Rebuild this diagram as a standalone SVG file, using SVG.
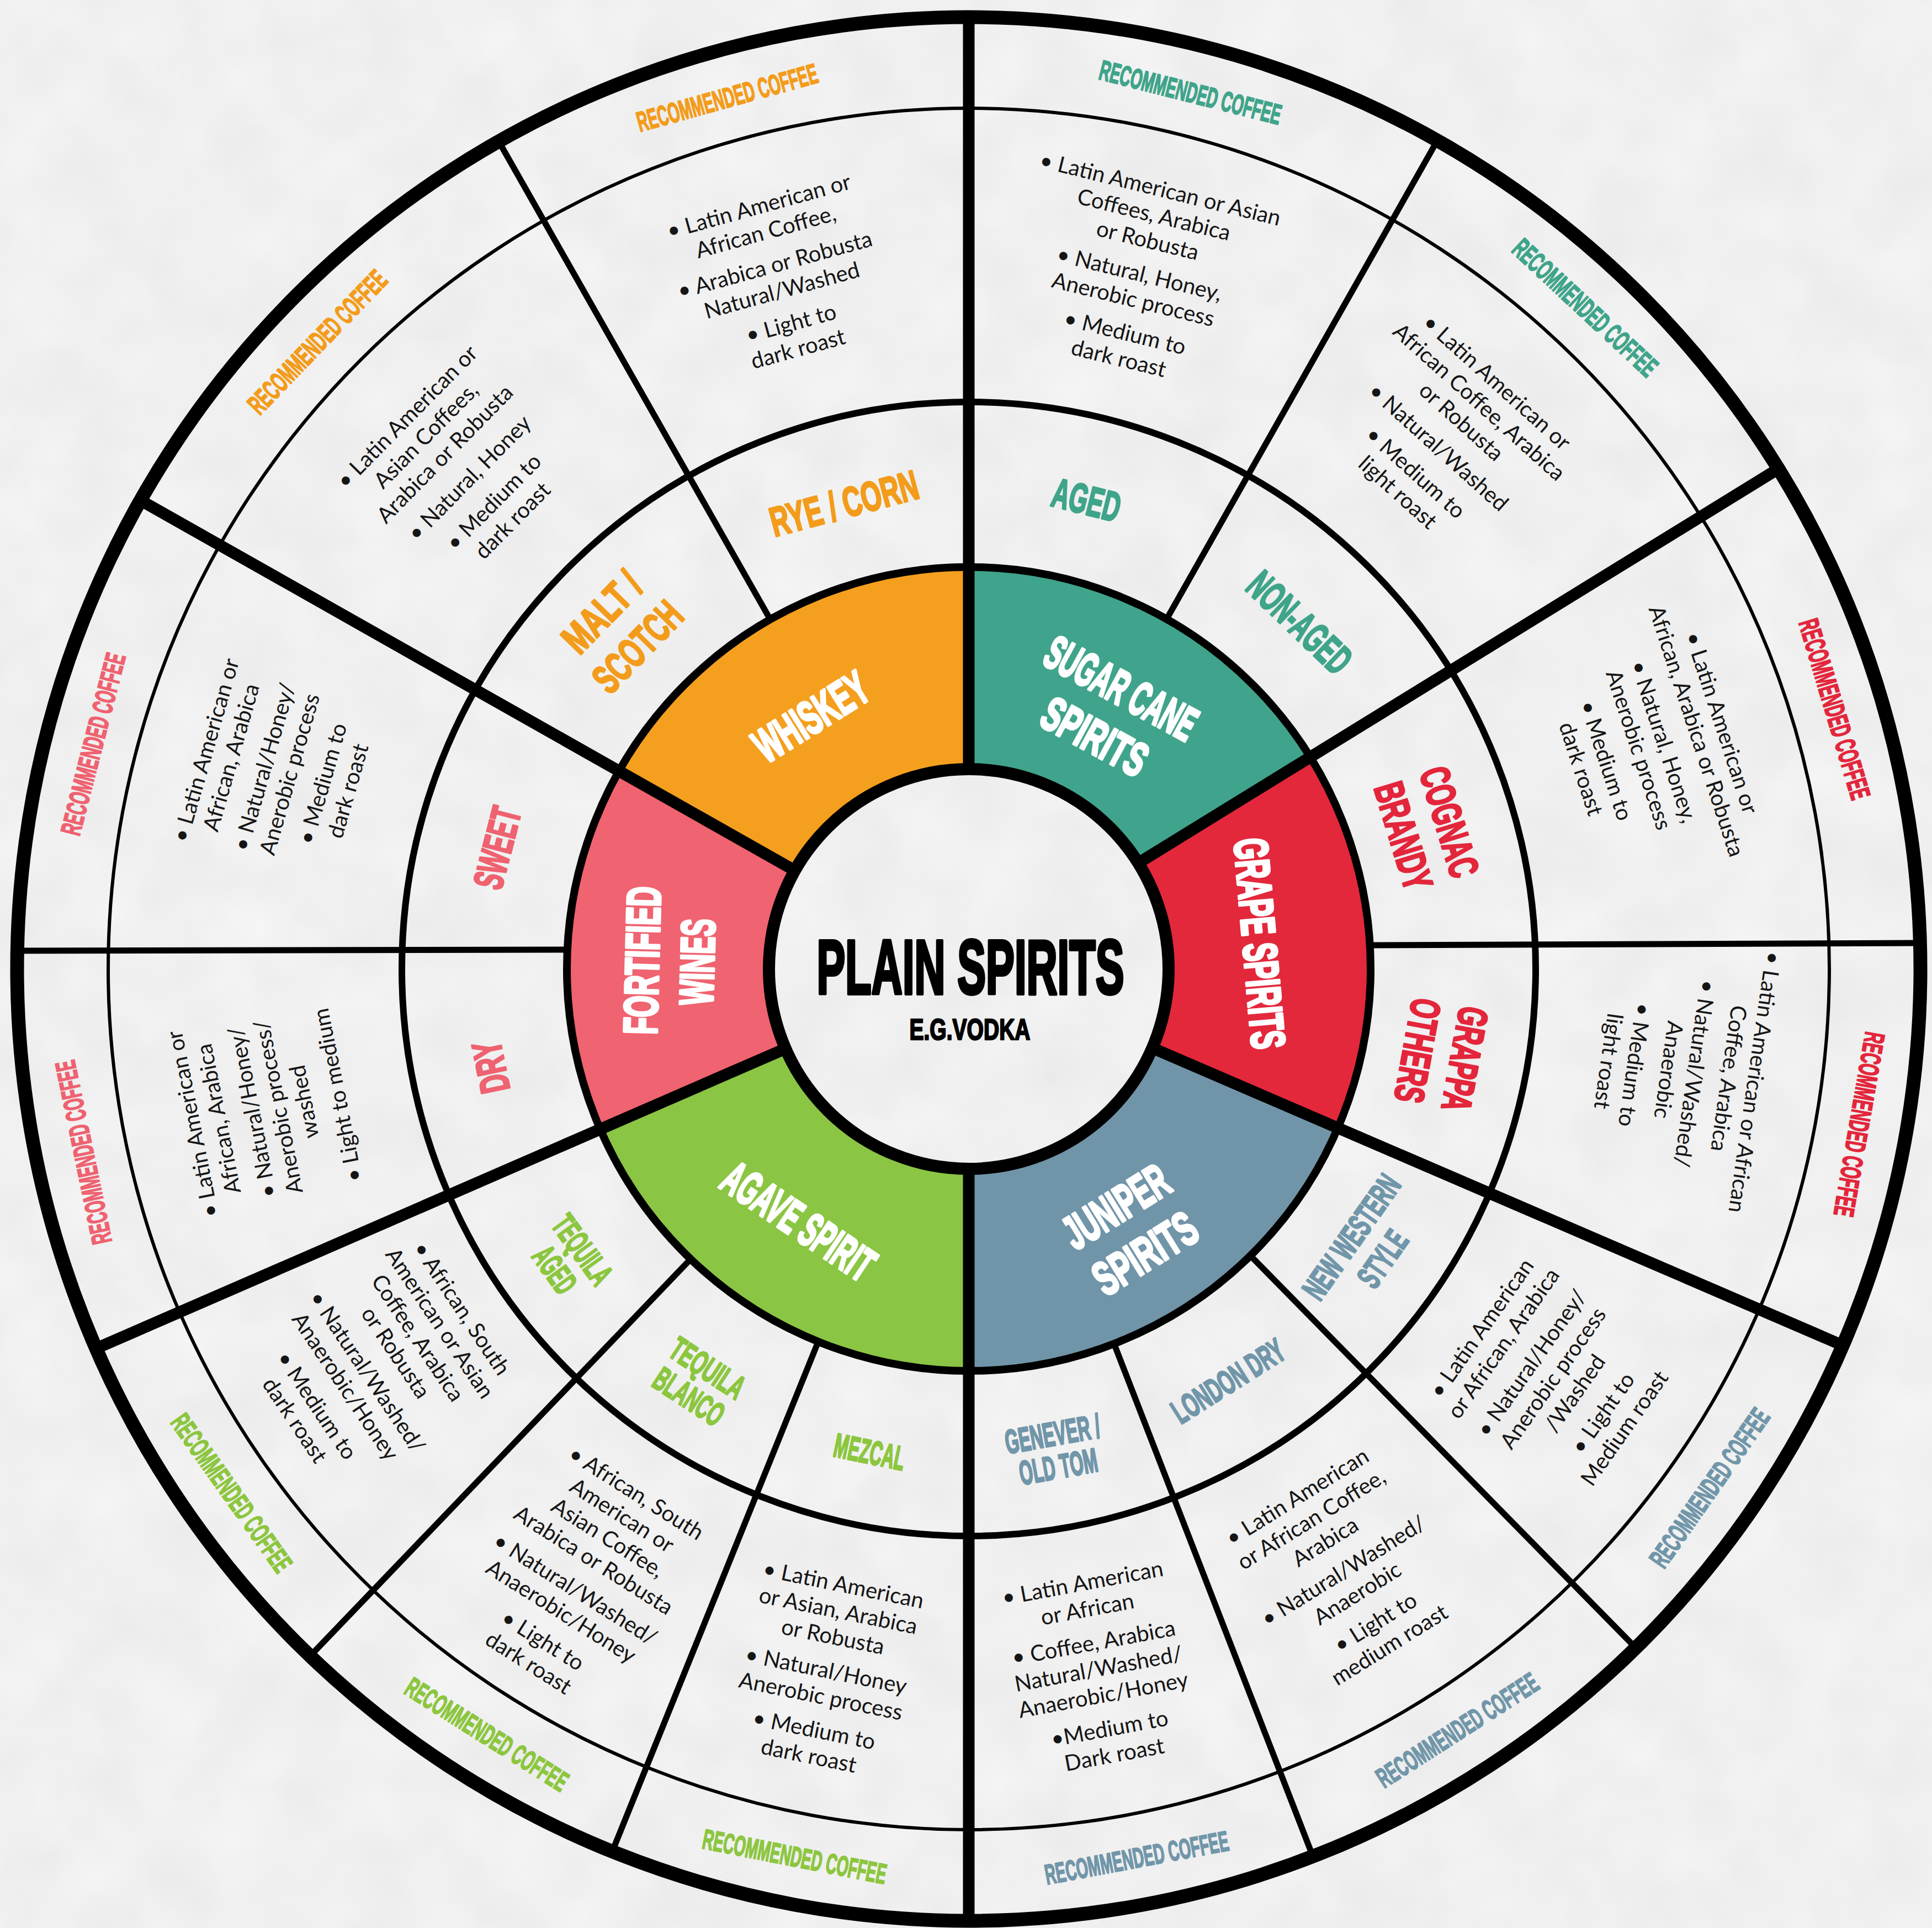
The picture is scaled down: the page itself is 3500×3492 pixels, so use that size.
<svg xmlns="http://www.w3.org/2000/svg" width="3500" height="3492" viewBox="0 0 3500 3492">
<style>
.h{font-family:"Liberation Sans",Arial,sans-serif;font-weight:700;stroke-linejoin:round}
.m{font-size:86px;fill:#fff;stroke:#fff;stroke-width:5}
.s1{font-size:75px;stroke-width:3.5}
.s2{font-size:61px;stroke-width:3}
.rc{font-size:51px;stroke-width:2.2}
.or{fill:#F39C1B;stroke:#F39C1B}
.te{fill:#3FA48A;stroke:#3FA48A}
.rd{fill:#E3263B;stroke:#E3263B}
.bl{fill:#7196A9;stroke:#7196A9}
.gr{fill:#8CC63F;stroke:#8CC63F}
.pk{fill:#EF6270;stroke:#EF6270}
.b{font-family:Lato,"Noto Sans",sans-serif;font-size:40px;fill:#151515;text-anchor:middle}
.thick{stroke:#000;stroke-width:21;fill:none}
.thin{stroke:#000;stroke-width:11;fill:none}
.ring{fill:none;stroke:#000}
</style>
<defs>
<filter id="paper" filterUnits="userSpaceOnUse" x="0" y="0" width="3500" height="3492" color-interpolation-filters="sRGB">
<feTurbulence type="fractalNoise" baseFrequency="0.008" numOctaves="3" seed="7"/>
<feColorMatrix type="matrix" values="0.05 0 0 0 0.915  0.05 0 0 0 0.915  0.05 0 0 0 0.915  0 0 0 0 1"/>
</filter>
</defs>
<rect width="3500" height="3492" fill="#eeeeee"/>
<rect width="3500" height="3492" filter="url(#paper)"/>

<g id="whiskey">
<path d="M1755 1027 A728 728 0 0 0 1121.3 1396.5 L1439.9 1576.7 A362 362 0 0 1 1755 1393 Z" fill="#F59F1F"/>
<g transform="translate(1755 1755) rotate(-122) translate(540 0) rotate(90)"><text class="h m" x="-114.5" y="31" textLength="229" lengthAdjust="spacingAndGlyphs">WHISKEY</text></g>
</g>
<g id="sugar-cane">
<path d="M2372.3 1369.2 A728 728 0 0 0 1755 1027 L1755 1393 A362 362 0 0 1 2062 1563.2 Z" fill="#40A48C"/>
<g transform="translate(1755 1755) rotate(-61.5) translate(530 0) rotate(90)"><text class="h m" x="-150" y="-19" textLength="300" lengthAdjust="spacingAndGlyphs">SUGAR CANE</text><text class="h m" x="-102.5" y="81" textLength="205" lengthAdjust="spacingAndGlyphs">SPIRITS</text></g>
</g>
<g id="grape">
<path d="M2423.6 2042.9 A728 728 0 0 0 2372.3 1369.2 L2062 1563.2 A362 362 0 0 1 2087.5 1898.2 Z" fill="#E3283C"/>
<g transform="translate(1755 1755) rotate(-5) translate(530 0) rotate(90)"><text class="h m" x="-191.5" y="31" textLength="383" lengthAdjust="spacingAndGlyphs">GRAPE SPIRITS</text></g>
</g>
<g id="juniper">
<path d="M1755 2483 A728 728 0 0 0 2423.6 2042.9 L2087.5 1898.2 A362 362 0 0 1 1755 2117 Z" fill="#7195A8"/>
<g transform="translate(1755 1755) rotate(58.2) translate(555 0) rotate(-90)"><text class="h m" x="-105" y="-19" textLength="210" lengthAdjust="spacingAndGlyphs">JUNIPER</text><text class="h m" x="-102.5" y="81" textLength="205" lengthAdjust="spacingAndGlyphs">SPIRITS</text></g>
</g>
<g id="agave">
<path d="M1087.4 2045.3 A728 728 0 0 0 1755 2483 L1755 2117 A362 362 0 0 1 1423 1899.3 Z" fill="#8BC544"/>
<g transform="translate(1755 1755) rotate(124) translate(550 0) rotate(-90)"><text class="h m" x="-156.5" y="31" textLength="313" lengthAdjust="spacingAndGlyphs">AGAVE SPIRIT</text></g>
</g>
<g id="fortified">
<path d="M1121.3 1396.5 A728 728 0 0 0 1087.4 2045.3 L1423 1899.3 A362 362 0 0 1 1439.9 1576.7 Z" fill="#F06370"/>
<g transform="translate(1755 1755) rotate(-178.5) translate(543 0) rotate(90)"><text class="h m" x="-134" y="-19" textLength="268" lengthAdjust="spacingAndGlyphs">FORTIFIED</text><text class="h m" x="-78" y="81" textLength="156" lengthAdjust="spacingAndGlyphs">WINES</text></g>
</g>

<g id="rye-corn">
<g transform="translate(1755 1755) rotate(-105) translate(874 0) rotate(90)"><text class="h s1 or" x="-137.5" y="27" textLength="275" lengthAdjust="spacingAndGlyphs">RYE / CORN</text></g>
<g class="b" transform="translate(1755 1755) rotate(-105.4) translate(1299 0) rotate(90)"><text y="-120">• Latin American or</text><text y="-72">African Coffee,</text><text y="-10">• Arabica or Robusta</text><text y="38">Natural/Washed</text><text y="100">• Light to</text><text y="148">dark roast</text></g>
<g transform="translate(1755 1755) rotate(-105.5) translate(1638 0) rotate(90)"><text class="h rc or" x="-169" y="18" textLength="338" lengthAdjust="spacingAndGlyphs">RECOMMENDED COFFEE</text></g>
</g>
<g id="malt-scotch">
<g transform="translate(1755 1755) rotate(-135.8) translate(883 0) rotate(90)"><text class="h s1 or" x="-85.5" y="-18" textLength="171" lengthAdjust="spacingAndGlyphs">MALT /</text><text class="h s1 or" x="-98.5" y="72" textLength="197" lengthAdjust="spacingAndGlyphs">SCOTCH</text></g>
<g class="b" transform="translate(1755 1755) rotate(-135.5) translate(1293 0) rotate(90)"><text y="-120">• Latin American or</text><text y="-72">Asian Coffees,</text><text y="-24">Arabica or Robusta</text><text y="38">• Natural, Honey</text><text y="100">• Medium to</text><text y="148">dark roast</text></g>
<g transform="translate(1755 1755) rotate(-136.1) translate(1638 0) rotate(90)"><text class="h rc or" x="-169" y="18" textLength="338" lengthAdjust="spacingAndGlyphs">RECOMMENDED COFFEE</text></g>
</g>
<g id="aged">
<g transform="translate(1755 1755) rotate(-75.9) translate(877 0) rotate(90)"><text class="h s1 te" x="-62.5" y="27" textLength="125" lengthAdjust="spacingAndGlyphs">AGED</text></g>
<g class="b" transform="translate(1755 1755) rotate(-76.2) translate(1297 0) rotate(90)"><text y="-144">• Latin American or Asian</text><text y="-96">Coffees, Arabica</text><text y="-48">or Robusta</text><text y="14">• Natural, Honey,</text><text y="62">Anerobic process</text><text y="124">• Medium to</text><text y="172">dark roast</text></g>
<g transform="translate(1755 1755) rotate(-75.8) translate(1638 0) rotate(90)"><text class="h rc te" x="-169" y="18" textLength="338" lengthAdjust="spacingAndGlyphs">RECOMMENDED COFFEE</text></g>
</g>
<g id="non-aged">
<g transform="translate(1755 1755) rotate(-46.3) translate(869 0) rotate(90)"><text class="h s1 te" x="-115" y="27" textLength="230" lengthAdjust="spacingAndGlyphs">NON-AGED</text></g>
<g class="b" transform="translate(1755 1755) rotate(-48) translate(1296 0) rotate(90)"><text y="-120">• Latin American or</text><text y="-72">African Coffee, Arabica</text><text y="-24">or Robusta</text><text y="38">• Natural/Washed</text><text y="100">• Medium to</text><text y="148">light roast</text></g>
<g transform="translate(1755 1755) rotate(-47) translate(1638 0) rotate(90)"><text class="h rc te" x="-169" y="18" textLength="338" lengthAdjust="spacingAndGlyphs">RECOMMENDED COFFEE</text></g>
</g>
<g id="cognac-brandy">
<g transform="translate(1755 1755) rotate(-17) translate(868 0) rotate(90)"><text class="h s1 rd" x="-102.5" y="-16.5" textLength="205" lengthAdjust="spacingAndGlyphs">COGNAC</text><text class="h s1 rd" x="-100" y="70.5" textLength="200" lengthAdjust="spacingAndGlyphs">BRANDY</text></g>
<g class="b" transform="translate(1755 1755) rotate(-18.1) translate(1301 0) rotate(90)"><text y="-120">• Latin American or</text><text y="-72">African, Arabica or Robusta</text><text y="-10">• Natural, Honey,</text><text y="38">Anerobic process</text><text y="100">• Medium to</text><text y="148">dark roast</text></g>
<g transform="translate(1755 1755) rotate(-16.7) translate(1638 0) rotate(90)"><text class="h rc rd" x="-169" y="18" textLength="338" lengthAdjust="spacingAndGlyphs">RECOMMENDED COFFEE</text></g>
</g>
<g id="grappa-others">
<g transform="translate(1755 1755) rotate(10.3) translate(871 0) rotate(90)"><text class="h s1 rd" x="-95.5" y="-16.5" textLength="191" lengthAdjust="spacingAndGlyphs">GRAPPA</text><text class="h s1 rd" x="-95" y="70.5" textLength="190" lengthAdjust="spacingAndGlyphs">OTHERS</text></g>
<g class="b" transform="translate(1755 1755) rotate(8.2) translate(1305 0) rotate(90)"><text y="-120">• Latin American or African</text><text y="-72">Coffee, Arabica</text><text y="-10">• Natural/Washed/</text><text y="38">Anaerobic</text><text y="100">• Medium to</text><text y="148">light roast</text></g>
<g transform="translate(1755 1755) rotate(9.9) translate(1638 0) rotate(90)"><text class="h rc rd" x="-169" y="18" textLength="338" lengthAdjust="spacingAndGlyphs">RECOMMENDED COFFEE</text></g>
</g>
<g id="new-western">
<g transform="translate(1755 1755) rotate(35) translate(880 0) rotate(-90)"><text class="h s2 bl" x="-130" y="-12.5" textLength="260" lengthAdjust="spacingAndGlyphs">NEW WESTERN</text><text class="h s2 bl" x="-55.5" y="56.5" textLength="111" lengthAdjust="spacingAndGlyphs">STYLE</text></g>
<g class="b" transform="translate(1755 1755) rotate(35) translate(1292 0) rotate(-90)"><text y="-144">• Latin American</text><text y="-96">or African, Arabica</text><text y="-34">• Natural/Honey/</text><text y="14">Anerobic process</text><text y="62">/Washed</text><text y="124">• Light to</text><text y="172">Medium roast</text></g>
<g transform="translate(1755 1755) rotate(35) translate(1638 0) rotate(-90)"><text class="h rc bl" x="-169" y="18" textLength="338" lengthAdjust="spacingAndGlyphs">RECOMMENDED COFFEE</text></g>
</g>
<g id="london-dry">
<g transform="translate(1755 1755) rotate(57.8) translate(881 0) rotate(-90)"><text class="h s2 bl" x="-115" y="22" textLength="230" lengthAdjust="spacingAndGlyphs">LONDON DRY</text></g>
<g class="b" transform="translate(1755 1755) rotate(58.1) translate(1284 0) rotate(-90)"><text y="-144">• Latin American</text><text y="-96">or African Coffee,</text><text y="-48">Arabica</text><text y="14">• Natural/Washed/</text><text y="62">Anaerobic</text><text y="124">• Light to</text><text y="172">medium roast</text></g>
<g transform="translate(1755 1755) rotate(57.3) translate(1638 0) rotate(-90)"><text class="h rc bl" x="-169" y="18" textLength="338" lengthAdjust="spacingAndGlyphs">RECOMMENDED COFFEE</text></g>
</g>
<g id="genever-old-tom">
<g transform="translate(1755 1755) rotate(79.8) translate(885 0) rotate(-90)"><text class="h s2 bl" x="-87" y="-8" textLength="174" lengthAdjust="spacingAndGlyphs">GENEVER /</text><text class="h s2 bl" x="-71.5" y="52" textLength="143" lengthAdjust="spacingAndGlyphs">OLD TOM</text></g>
<g class="b" transform="translate(1755 1755) rotate(79.5) translate(1289 0) rotate(-90)"><text y="-144">• Latin American</text><text y="-96">or African</text><text y="-34">• Coffee, Arabica</text><text y="14">Natural/Washed/</text><text y="62">Anaerobic/Honey</text><text y="124">•Medium to</text><text y="172">Dark roast</text></g>
<g transform="translate(1755 1755) rotate(79.3) translate(1638 0) rotate(-90)"><text class="h rc bl" x="-169" y="18" textLength="338" lengthAdjust="spacingAndGlyphs">RECOMMENDED COFFEE</text></g>
</g>
<g id="mezcal">
<g transform="translate(1755 1755) rotate(101.6) translate(892 0) rotate(-90)"><text class="h s2 gr" x="-65" y="22" textLength="130" lengthAdjust="spacingAndGlyphs">MEZCAL</text></g>
<g class="b" transform="translate(1755 1755) rotate(101.5) translate(1296 0) rotate(-90)"><text y="-144">• Latin American</text><text y="-96">or Asian, Arabica</text><text y="-48">or Robusta</text><text y="14">• Natural/Honey</text><text y="62">Anerobic process</text><text y="124">• Medium to</text><text y="172">dark roast</text></g>
<g transform="translate(1755 1755) rotate(101.1) translate(1638 0) rotate(-90)"><text class="h rc gr" x="-169" y="18" textLength="338" lengthAdjust="spacingAndGlyphs">RECOMMENDED COFFEE</text></g>
</g>
<g id="tequila-blanco">
<g transform="translate(1755 1755) rotate(123.2) translate(894 0) rotate(-90)"><text class="h s2 gr" x="-75" y="-9" textLength="150" lengthAdjust="spacingAndGlyphs">TEQUILA</text><text class="h s2 gr" x="-70" y="53" textLength="140" lengthAdjust="spacingAndGlyphs">BLANCO</text></g>
<g class="b" transform="translate(1755 1755) rotate(122.4) translate(1306 0) rotate(-90)"><text y="-168">• African, South</text><text y="-120">American or</text><text y="-72">Asian Coffee,</text><text y="-24">Arabica or Robusta</text><text y="38">• Natural/Washed/</text><text y="86">Anaerobic/Honey</text><text y="148">• Light to</text><text y="196">dark roast</text></g>
<g transform="translate(1755 1755) rotate(122.2) translate(1638 0) rotate(-90)"><text class="h rc gr" x="-169" y="18" textLength="338" lengthAdjust="spacingAndGlyphs">RECOMMENDED COFFEE</text></g>
</g>
<g id="tequila-aged">
<g transform="translate(1755 1755) rotate(144) translate(895 0) rotate(-90)"><text class="h s2 gr" x="-70" y="-9" textLength="140" lengthAdjust="spacingAndGlyphs">TEQUILA</text><text class="h s2 gr" x="-45" y="53" textLength="90" lengthAdjust="spacingAndGlyphs">AGED</text></g>
<g class="b" transform="translate(1755 1755) rotate(146.2) translate(1287 0) rotate(-90)"><text y="-168">• African, South</text><text y="-120">American or Asian</text><text y="-72">Coffee, Arabica</text><text y="-24">or Robusta</text><text y="38">• Natural/Washed/</text><text y="86">Anaerobic/Honey</text><text y="148">• Medium to</text><text y="196">dark roast</text></g>
<g transform="translate(1755 1755) rotate(144.6) translate(1638 0) rotate(-90)"><text class="h rc gr" x="-169" y="18" textLength="338" lengthAdjust="spacingAndGlyphs">RECOMMENDED COFFEE</text></g>
</g>
<g id="dry">
<g transform="translate(1755 1755) rotate(-191.6) translate(885 0) rotate(90)"><text class="h s1 pk" x="-47" y="27" textLength="94" lengthAdjust="spacingAndGlyphs">DRY</text></g>
<g class="b" transform="translate(1755 1755) rotate(-191.3) translate(1300 0) rotate(90)"><text y="-120">• Latin American or</text><text y="-72">African, Arabica</text><text y="-10">• Natural/Honey/</text><text y="38">Anerobic process/</text><text y="86">washed</text><text y="148">• Light to medium</text></g>
<g transform="translate(1755 1755) rotate(-191.7) translate(1638 0) rotate(90)"><text class="h rc pk" x="-169" y="18" textLength="338" lengthAdjust="spacingAndGlyphs">RECOMMENDED COFFEE</text></g>
</g>
<g id="sweet">
<g transform="translate(1755 1755) rotate(-165.6) translate(883 0) rotate(90)"><text class="h s1 pk" x="-75" y="27" textLength="150" lengthAdjust="spacingAndGlyphs">SWEET</text></g>
<g class="b" transform="translate(1755 1755) rotate(-164) translate(1304 0) rotate(90)"><text y="-120">• Latin American or</text><text y="-72">African, Arabica</text><text y="-10">• Natural/Honey/</text><text y="38">Anerobic process</text><text y="100">• Medium to</text><text y="148">dark roast</text></g>
<g transform="translate(1755 1755) rotate(-165.6) translate(1638 0) rotate(90)"><text class="h rc pk" x="-169" y="18" textLength="338" lengthAdjust="spacingAndGlyphs">RECOMMENDED COFFEE</text></g>
</g>

<g id="connectors">
<circle class="ring" cx="1755" cy="1755" r="728" stroke-width="14"/>
<circle class="ring" cx="1755" cy="1755" r="1027" stroke-width="12"/>
<circle class="ring" cx="1755" cy="1755" r="1559" stroke-width="6"/>
<circle class="ring" cx="1755" cy="1755" r="1724" stroke-width="25"/>
<line class="thin" x1="1395.4" y1="1122" x2="903.5" y2="256"/>
<line class="thin" x1="2113.5" y1="1121.3" x2="2603.9" y2="254.4"/>
<line class="thin" x1="2482" y1="1712" x2="3478" y2="1708"/>
<line class="thin" x1="1028" y1="1720" x2="31" y2="1722"/>
<line class="thin" x1="2265.3" y1="2274.3" x2="2963.4" y2="2984.7"/>
<line class="thin" x1="2018.2" y1="2433.7" x2="2378.4" y2="3362.3"/>
<line class="thin" x1="1251.1" y1="2280.5" x2="561.8" y2="2999.4"/>
<line class="thin" x1="1482.3" y1="2430" x2="1109.2" y2="3353.5"/>
<line class="thick" x1="1755" y1="1393" x2="1755" y2="31"/>
<line class="thick" x1="1755" y1="2117" x2="1755" y2="3479"/>
<line class="thick" x1="1439.9" y1="1576.7" x2="254.4" y2="906.1"/>
<line class="thick" x1="2062" y1="1563.2" x2="3217" y2="852"/>
<line class="thick" x1="2087.5" y1="1898.2" x2="3338.3" y2="2436.8"/>
<line class="thick" x1="1423" y1="1899.3" x2="173.9" y2="2442.4"/>
</g>

<g id="center">
<circle cx="1755" cy="1755" r="362" fill="none" stroke="#000" stroke-width="22"/>
<text class="h" x="1479.5" y="1800" textLength="557" lengthAdjust="spacingAndGlyphs" style="font-size:139px;fill:#000;stroke:#000;stroke-width:6">PLAIN SPIRITS</text>
<text class="h" x="1647.5" y="1883" textLength="219" lengthAdjust="spacingAndGlyphs" style="font-size:53px;fill:#000;stroke:#000;stroke-width:2.5">E.G.VODKA</text>
</g>
</svg>
